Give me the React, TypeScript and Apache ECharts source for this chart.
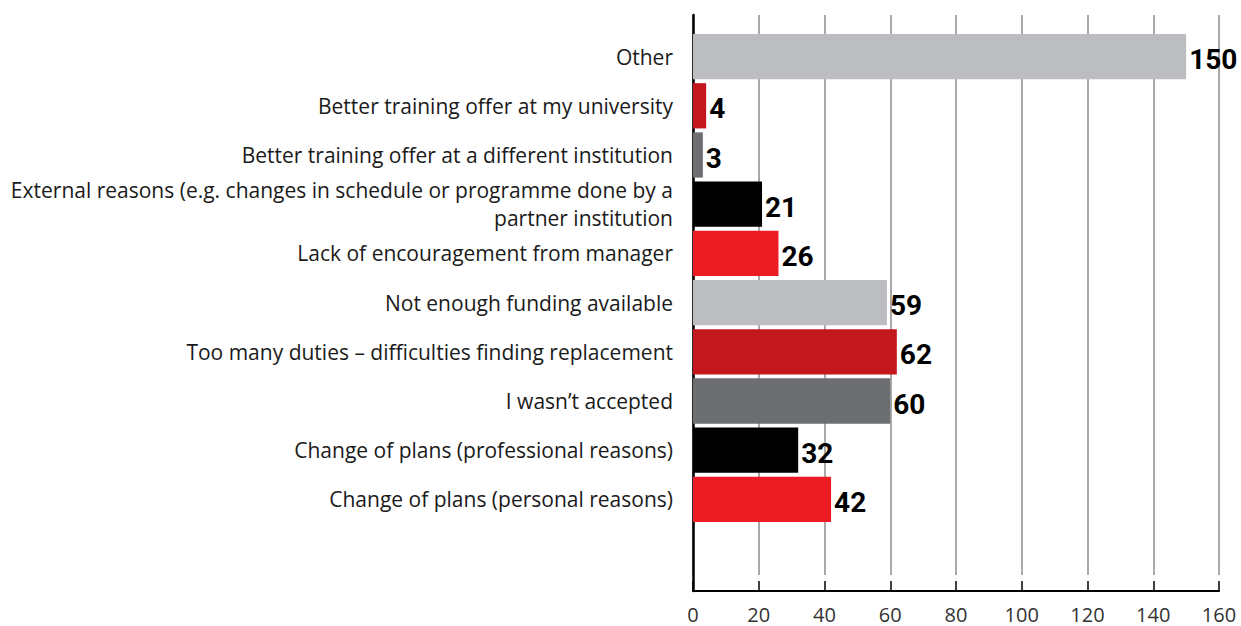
import React, { useEffect, useRef } from "react";
import * as echarts from "echarts";

const categories = [
  "Other",
  "Better training offer at my university",
  "Better training offer at a different institution",
  "External reasons (e.g. changes in schedule or programme done by a\npartner institution",
  "Lack of encouragement from manager",
  "Not enough funding available",
  "Too many duties \u2013 difficulties finding replacement",
  "I wasn\u2019t accepted",
  "Change of plans (professional reasons)",
  "Change of plans (personal reasons)",
];
const values = [150, 4, 3, 21, 26, 59, 62, 60, 32, 42];
const barColors = [
  "#bcbdc0",
  "#c4171d",
  "#6d6e71",
  "#000000",
  "#ed1c24",
  "#bcbdc0",
  "#c4171d",
  "#6d6e71",
  "#000000",
  "#ed1c24",
];
const xMin = 0;
const xMax = 160;
const xStep = 20;

const FONT = "'Open Sans', 'Noto Sans', sans-serif";

export default function App() {
  const ref = useRef<HTMLDivElement>(null);
  useEffect(() => {
    document.body.style.margin = "0";
    const chart = echarts.init(ref.current!, null, { renderer: "svg" });
    chart.setOption({
      animation: false,
      backgroundColor: "#ffffff",
      grid: [
        { left: 693, right: 22, top: 15, bottom: 35 },
        { left: 693, right: 22, top: 15, bottom: 51 },
        { left: 693, right: 22, top: 32, height: 492 },
      ],
      xAxis: [
        {
          gridIndex: 0,
          type: "value",
          min: xMin,
          max: xMax,
          interval: xStep,
          axisLine: { show: true, onZero: false, lineStyle: { color: "#000", width: 2 } },
          axisTick: { show: true, inside: true, length: 10, lineStyle: { color: "#000", width: 1.5 } },
          axisLabel: { fontFamily: FONT, fontSize: 20, color: "#333", margin: 13 },
          splitLine: { show: false },
        },
        {
          gridIndex: 1,
          type: "value",
          min: xMin,
          max: xMax,
          interval: xStep,
          axisLine: { show: false },
          axisTick: { show: false },
          axisLabel: { show: false },
          splitLine: { show: true, lineStyle: { color: "#8c8c8c", width: 1.5 } },
        },
        {
          gridIndex: 2,
          type: "value",
          min: xMin,
          max: xMax,
          interval: xStep,
          show: false,
          splitLine: { show: false },
        },
      ],
      yAxis: [
        {
          gridIndex: 0,
          type: "value",
          min: 0,
          max: 1,
          axisLine: { show: true, onZero: false, lineStyle: { color: "#000", width: 2.5 } },
          axisTick: { show: false },
          axisLabel: { show: false },
          splitLine: { show: false },
        },
        {
          gridIndex: 1,
          type: "value",
          min: 0,
          max: 1,
          show: false,
          splitLine: { show: false },
        },
        {
          gridIndex: 2,
          type: "category",
          inverse: true,
          data: categories,
          axisLine: { show: false },
          axisTick: { show: false },
          axisLabel: {
            fontFamily: FONT,
            fontSize: 21,
            color: "#1a1a1a",
            margin: 20,
            lineHeight: 28,
            align: "right",
          },
          splitLine: { show: false },
        },
      ],
      series: [
        {
          type: "bar",
          xAxisIndex: 2,
          yAxisIndex: 2,
          barCategoryGap: "8%",
          data: values.map((v, i) => ({ value: v, itemStyle: { color: barColors[i] } })),
          label: {
            show: true,
            position: "right",
            distance: 3,
            fontFamily: "Roboto, sans-serif",
            fontWeight: "bold",
            fontSize: 28,
            color: "#000",
            offset: [0, 3],
          },
        },
      ],
    });
    return () => chart.dispose();
  }, []);
  return <div ref={ref} style={{ width: 1241, height: 626 }} />;
}
